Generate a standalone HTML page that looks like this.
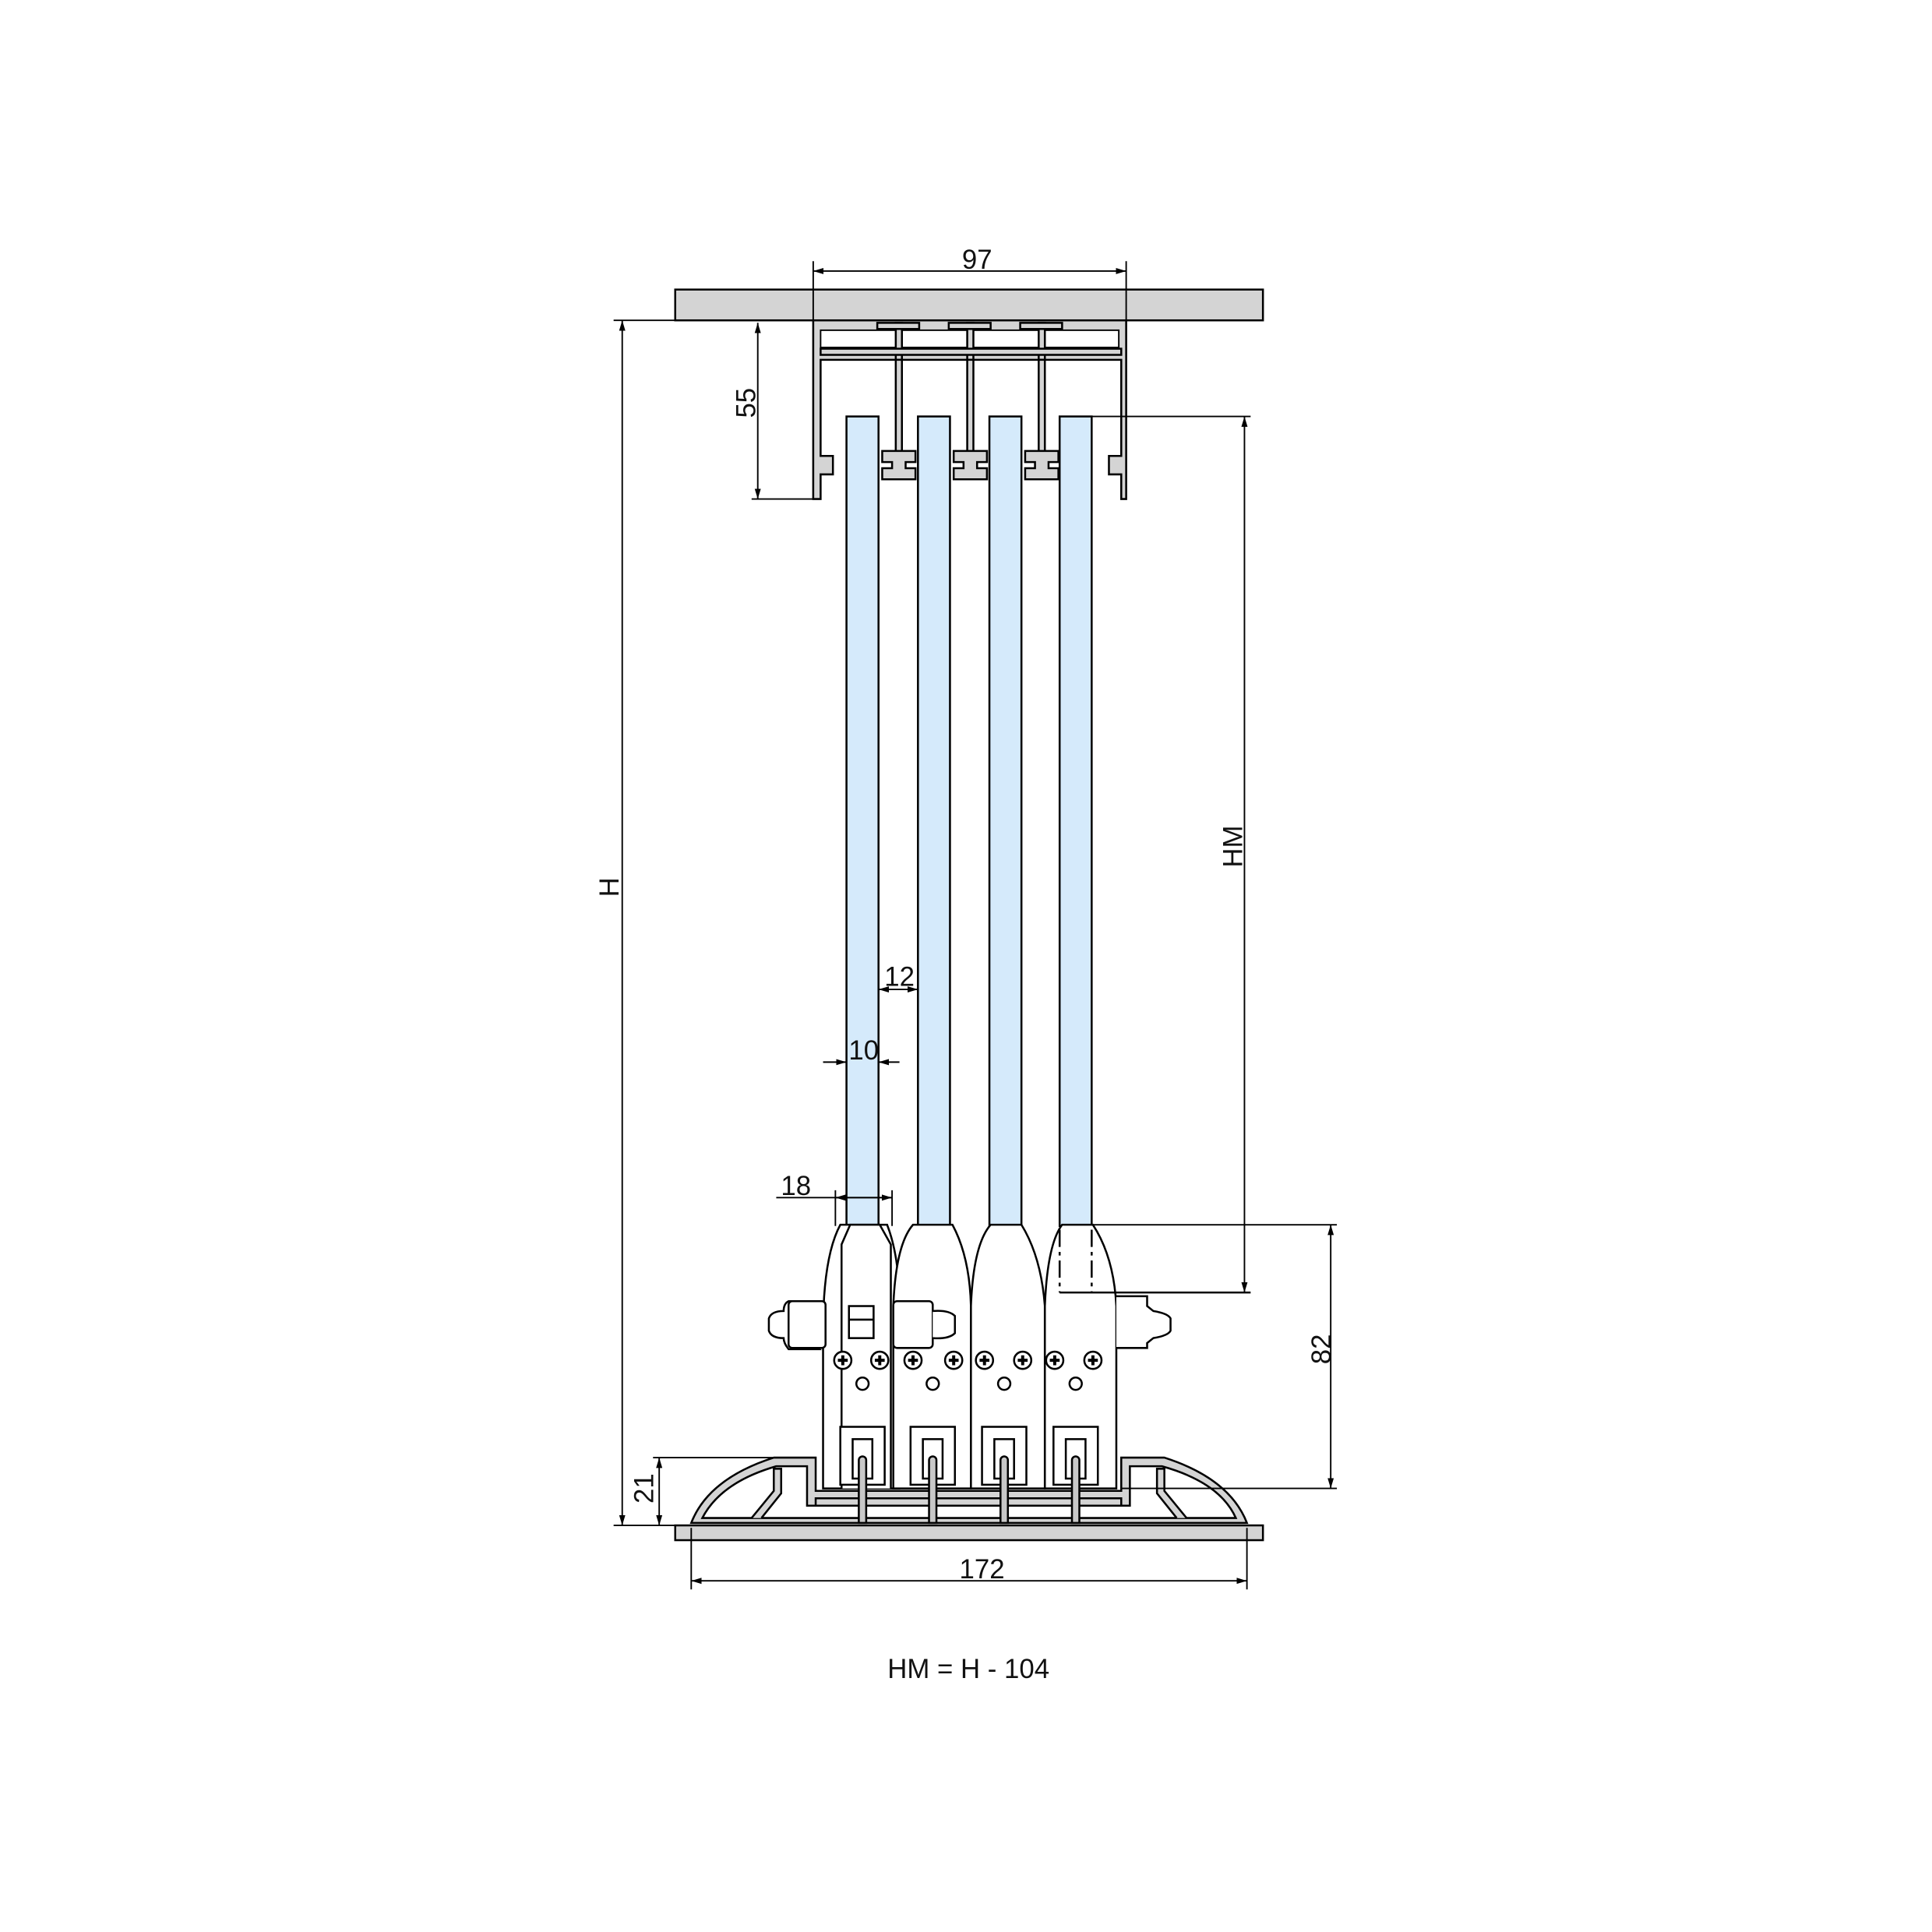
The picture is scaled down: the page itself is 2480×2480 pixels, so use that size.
<!DOCTYPE html>
<html><head><meta charset="utf-8"><style>
html,body{margin:0;padding:0;background:#fff}
svg{display:block}
text{font-family:"Liberation Sans",sans-serif;fill:#111}
</style></head><body>
<svg width="2480" height="2480" viewBox="0 0 1568 1568" xmlns="http://www.w3.org/2000/svg">
<defs>
<marker id="a" viewBox="0 0 10 10" refX="10" refY="5" markerWidth="7" markerHeight="7" orient="auto-start-reverse"><path d="M0,2 L10,5 L0,8 z" fill="#000"/></marker>
</defs>
<g stroke="#000" stroke-width="1.6" fill="none">
<rect x="548" y="235" width="477" height="25" fill="#d4d4d4"/>
<g fill="#d4d4d4">
<path d="M660,260 H914 V405 H910 V385 H900 V370 H910 V292 H666 V370 H676 V385 H666 V405 H660 Z"/>
</g>
<rect x="666" y="268" width="242" height="14" fill="#fff" stroke-width="1.2"/>
<g fill="#d4d4d4">
<rect x="727" y="262" width="5" height="30"/><rect x="785" y="262" width="5" height="30"/><rect x="843" y="262" width="5" height="30"/>
<rect x="666" y="283" width="244" height="5"/>
<rect x="727" y="292" width="5" height="75"/>
<rect x="785" y="292" width="5" height="75"/>
<rect x="843" y="292" width="5" height="75"/>
<path d="M716,366 H743 V375 H735 V380 H743 V389 H716 V380 H724 V375 H716 Z"/>
<path d="M774,366 H801 V375 H793 V380 H801 V389 H774 V380 H782 V375 H774 Z"/>
<path d="M832,366 H859 V375 H851 V380 H859 V389 H832 V380 H840 V375 H832 Z"/>
<rect x="712" y="262" width="34" height="5"/><rect x="770" y="262" width="34" height="5"/><rect x="828" y="262" width="34" height="5"/>
</g>
<g fill="#d5eafb">
<rect x="687" y="338" width="26" height="657"/>
<rect x="745" y="338" width="26" height="657"/>
<rect x="803" y="338" width="26" height="657"/>
<rect x="860" y="338" width="26" height="657"/>
</g>
<rect x="548" y="1238" width="477" height="12" fill="#d4d4d4"/>
<path d="M561,1236 Q575,1200 628,1183 H662 V1210 H910 V1183 H945 Q998,1200 1012,1236 Z" fill="#d4d4d4"/>
<path d="M570,1232 Q585,1203 630,1190 H655 V1222 H917 V1190 H943 Q990,1203 1003,1232 Z" fill="#fff"/>
<path d="M610,1232 L628,1210 V1192 H634 V1212 L618,1232" fill="#d4d4d4"/>
<path d="M963,1232 L945,1210 V1192 H939 V1212 L955,1232" fill="#d4d4d4"/>
<rect x="662" y="1216" width="248" height="6" fill="#d4d4d4"/>
<g fill="#fff">
<path d="M668,1208 V1080 Q668,1020 682,994 H720 Q730,1020 730,1060 V1208 Z"/>
<path d="M683,1208 V1010 L690,994 H714 L723,1010 V1208"/>
<path d="M725,1208 V1060 Q727,1010 741,994 H773 Q787,1020 788,1060 V1208 Z"/>
<path d="M788,1208 V1060 Q790,1010 804,994 H829 Q845,1020 848,1060 V1208 Z"/>
<path d="M848,1208 V1060 Q850,1010 862,994 H887 Q904,1020 906,1060 V1208 Z"/>
<path d="M660,1060 V1090 L665,1095 H640 Q636,1090 636,1086 Q626,1086 624,1080 V1070 Q626,1064 636,1064 Q636,1058 640,1056 H665 Z"/>
<rect x="640" y="1056" width="30" height="38" rx="3"/>
<rect x="725" y="1056" width="32" height="38" rx="3"/>
<path d="M757,1064 Q770,1063 775,1068 V1082 Q770,1087 757,1086"/>
<path d="M906,1052 H931 V1060 L936,1064 Q948,1066 950,1070 V1080 Q948,1084 936,1086 L931,1090 V1094 H906"/>
<rect x="689" y="1060" width="20" height="26"/><line x1="689" y1="1071" x2="709" y2="1071"/>
<line x1="860" y1="1049" x2="1015" y2="1049"/>
</g>
<g stroke-dasharray="14,4,3,4">
<line x1="860" y1="998" x2="860" y2="1049"/><line x1="886" y1="998" x2="886" y2="1049"/>
</g>
<g fill="#fff">
<circle cx="684" cy="1104" r="7"/><circle cx="714" cy="1104" r="7"/>
<circle cx="741" cy="1104" r="7"/><circle cx="774" cy="1104" r="7"/>
<circle cx="799" cy="1104" r="7"/><circle cx="830" cy="1104" r="7"/>
<circle cx="856" cy="1104" r="7"/><circle cx="887" cy="1104" r="7"/>
<circle cx="700" cy="1123" r="5"/><circle cx="757" cy="1123" r="5"/><circle cx="815" cy="1123" r="5"/><circle cx="873" cy="1123" r="5"/>
<rect x="682" y="1158" width="36" height="47"/><rect x="739" y="1158" width="36" height="47"/><rect x="797" y="1158" width="36" height="47"/><rect x="855" y="1158" width="36" height="47"/>
<rect x="692" y="1168" width="16" height="32"/><rect x="749" y="1168" width="16" height="32"/><rect x="807" y="1168" width="16" height="32"/><rect x="865" y="1168" width="16" height="32"/>
</g>
<path d="M684,1100v8M680,1104h8M714,1100v8M710,1104h8M741,1100v8M737,1104h8M774,1100v8M770,1104h8M799,1100v8M795,1104h8M830,1100v8M826,1104h8M856,1100v8M852,1104h8M887,1100v8M883,1104h8" stroke="#000" stroke-width="2.5"/>
<g fill="#c8c8c8">
<path d="M697,1185 a3,3 0 1 1 6,0 V1236 h-6 Z"/><path d="M754,1185 a3,3 0 1 1 6,0 V1236 h-6 Z"/><path d="M812,1185 a3,3 0 1 1 6,0 V1236 h-6 Z"/><path d="M870,1185 a3,3 0 1 1 6,0 V1236 h-6 Z"/>
</g>
<g stroke-width="1.2">
<line x1="660" y1="212" x2="660" y2="260"/><line x1="914" y1="212" x2="914" y2="260"/>
<line x1="660" y1="220" x2="914" y2="220" marker-start="url(#a)" marker-end="url(#a)"/>
<line x1="498" y1="260" x2="548" y2="260"/><line x1="498" y1="1238" x2="548" y2="1238"/>
<line x1="505" y1="260" x2="505" y2="1238" marker-start="url(#a)" marker-end="url(#a)"/>
<line x1="610" y1="405" x2="662" y2="405"/>
<line x1="615" y1="262" x2="615" y2="405" marker-start="url(#a)" marker-end="url(#a)"/>
<line x1="886" y1="338" x2="1015" y2="338"/>
<line x1="1010" y1="338" x2="1010" y2="1049" marker-start="url(#a)" marker-end="url(#a)"/>
<line x1="886" y1="994" x2="1085" y2="994"/><line x1="910" y1="1208" x2="1085" y2="1208"/>
<line x1="1080" y1="994" x2="1080" y2="1208" marker-start="url(#a)" marker-end="url(#a)"/>
<line x1="530" y1="1183" x2="655" y2="1183"/>
<line x1="535" y1="1183" x2="535" y2="1238" marker-start="url(#a)" marker-end="url(#a)"/>
<line x1="561" y1="1240" x2="561" y2="1290"/><line x1="1012" y1="1240" x2="1012" y2="1290"/>
<line x1="561" y1="1283" x2="1012" y2="1283" marker-start="url(#a)" marker-end="url(#a)"/>
<line x1="713" y1="803" x2="745" y2="803" marker-start="url(#a)" marker-end="url(#a)"/>
<line x1="668" y1="862" x2="687" y2="862" marker-end="url(#a)"/><line x1="730" y1="862" x2="713" y2="862" marker-end="url(#a)"/>
<line x1="630" y1="972" x2="724" y2="972"/>
<line x1="678" y1="966" x2="678" y2="995"/><line x1="724" y1="966" x2="724" y2="995"/>
<line x1="678" y1="972" x2="724" y2="972" marker-start="url(#a)" marker-end="url(#a)"/>
</g>
</g>
<g font-size="22">
<text x="793" y="218" text-anchor="middle">97</text>
<text transform="translate(502,720) rotate(-90)" text-anchor="middle">H</text>
<text transform="translate(613,327) rotate(-90)" text-anchor="middle">55</text>
<text transform="translate(1008,687) rotate(-90)" text-anchor="middle">HM</text>
<text transform="translate(1080,1095) rotate(-90)" text-anchor="middle">82</text>
<text transform="translate(530,1208) rotate(-90)" text-anchor="middle">21</text>
<text x="797" y="1281" text-anchor="middle">172</text>
<text x="730" y="800" text-anchor="middle">12</text>
<text x="701" y="860" text-anchor="middle">10</text>
<text x="646" y="970" text-anchor="middle">18</text>
<text x="786" y="1362" text-anchor="middle">HM = H - 104</text>
</g>
</svg>
</body></html>
